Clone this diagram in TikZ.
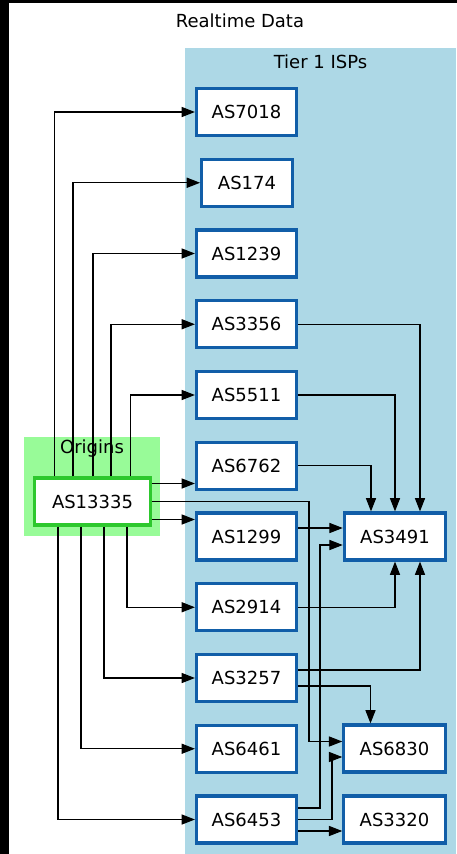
\documentclass[tikz,border=0pt]{standalone}
\usepackage{fontspec}
\setmainfont{DejaVu Sans}
\usetikzlibrary{arrows.meta,calc}
\definecolor{tblue}{RGB}{17,94,168}
\definecolor{tierfill}{RGB}{173,216,230}
\definecolor{origfill}{RGB}{152,251,152}
\definecolor{origline}{RGB}{45,200,45}
\tikzset{
  asnode/.style={draw=tblue, line width=2.4pt, fill=white, minimum width=75pt, minimum height=35.25pt, inner sep=0pt, font=\fontsize{13.5pt}{16pt}\selectfont},
  orignode/.style={asnode, draw=origline, minimum width=87pt},
  lbl/.style={font=\fontsize{13.5pt}{16pt}\selectfont, inner sep=0pt},
  edge/.style={draw=black, line width=0.8pt, -{Triangle[length=10pt,width=7.6pt]}},
}
\begin{document}
\begin{tikzpicture}[x=0.75pt,y=-0.75pt]
\useasboundingbox (0,0) rectangle (457,854);
\fill[black] (0,0) rectangle (457,854);
\fill[white] (9,2.5) rectangle (457,854);
% clusters
\fill[tierfill] (185,47.5) rectangle (456,854);
\node[lbl] (title) at (240,21) {Realtime Data};
\node[lbl] (tier) at (320.5,62) {Tier 1 ISPs};
\fill[origfill] (23.5,436.5) rectangle (160,535.5);
\node[lbl] (orig) at (92,449) {Origins};
% nodes
\node[asnode] (n7018) at (246.5,112) {AS7018};
\node[asnode, minimum width=68pt] (n174) at (247,182.75) {AS174};
\node[asnode] (n1239) at (246.5,253.5) {AS1239};
\node[asnode] (n3356) at (246.5,324.25) {AS3356};
\node[asnode] (n5511) at (246.5,395) {AS5511};
\node[asnode] (n6762) at (246.5,465.75) {AS6762};
\node[asnode] (n1299) at (246.5,536.5) {AS1299};
\node[asnode] (n2914) at (246.5,607.25) {AS2914};
\node[asnode] (n3257) at (246.5,678) {AS3257};
\node[asnode] (n6461) at (246.5,748.75) {AS6461};
\node[asnode] (n6453) at (246.5,819.5) {AS6453};
\node[asnode, minimum width=76pt] (n3491) at (395,536.5) {AS3491};
\node[asnode, minimum width=76pt] (n6830) at (394.5,748.5) {AS6830};
\node[asnode, minimum width=76pt] (n3320) at (394.5,819.5) {AS3320};
\node[orignode] (o) at (92.5,501.5) {AS13335};
% edges from origin, upward
\draw[edge] ($(o.north)+(-38,0)$) |- (n7018);
\draw[edge] ($(o.north)+(-19.5,0)$) |- (n174);
\draw[edge] ($(o.north)+(0.5,0)$) |- (n1239);
\draw[edge] ($(o.north)+(18.5,0)$) |- (n3356);
\draw[edge] ($(o.north)+(38,0)$) |- (n5511);
% edges from origin, right
\coordinate (s1) at ($(o.east)+(0,-18)$);
\draw[edge] (s1) -- (s1 -| n6762.west);
\coordinate (s3) at ($(o.east)+(0,18)$);
\draw[edge] (s3) -- (s3 -| n1299.west);
\coordinate (w1) at ($(n6830.west)+(0,-7)$);
\draw[edge] (o.east) -| (309,0 |- w1) -- (w1);
% edges from origin, downward
\draw[edge] ($(o.south)+(34.5,0)$) |- (n2914);
\draw[edge] ($(o.south)+(11.5,0)$) |- (n3257);
\draw[edge] ($(o.south)+(-11.5,0)$) |- (n6461);
\draw[edge] ($(o.south)+(-34.5,0)$) |- (n6453);
% edges to AS3491
\draw[edge] (n3356.east) -| ($(n3491.north)+(25,0)$);
\draw[edge] (n5511.east) -| (n3491.north);
\draw[edge] (n6762.east) -| ($(n3491.north)+(-24,0)$);
\coordinate (a1) at ($(n1299.east)+(0,-8.5)$);
\draw[edge] (a1) -- (a1 -| n3491.west);
\coordinate (a2) at ($(n6453.east)+(0,-11.5)$);
\coordinate (a2t) at ($(n3491.west)+(0,8.5)$);
\draw[edge] (a2) -| (320,0 |- a2t) -- (a2t);
\draw[edge] (n2914.east) -| (n3491.south);
\coordinate (b2) at ($(n3257.east)+(0,-8)$);
\draw[edge] (b2) -| ($(n3491.south)+(25,0)$);
% edges to AS6830 and AS3320
\coordinate (c1) at ($(n3257.east)+(0,8)$);
\draw[edge] (c1) -| ($(n6830.north)+(-24,0)$);
\coordinate (c2t) at ($(n6830.west)+(0,8.5)$);
\draw[edge] (n6453.east) -| (332,0 |- c2t) -- (c2t);
\coordinate (d1) at ($(n6453.east)+(0,11.5)$);
\draw[edge] (d1) -- (d1 -| n3320.west);
\end{tikzpicture}
\end{document}
